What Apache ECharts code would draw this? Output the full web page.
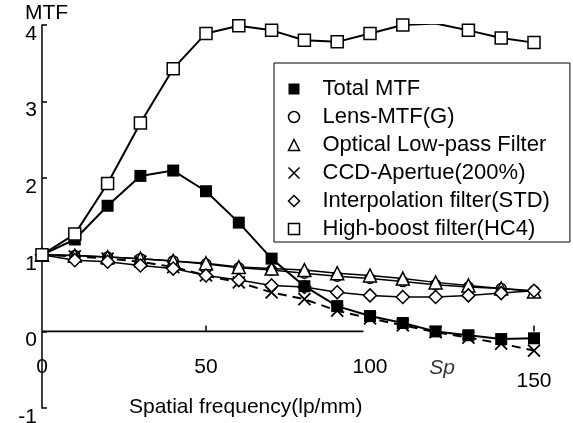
<!DOCTYPE html>
<html>
<head>
<meta charset="utf-8">
<script src="https://cdn.jsdelivr.net/npm/echarts@6/dist/echarts.min.js"></script>
<style>
  html, body { margin: 0; padding: 0; background: #fff; }
  #chart { width: 573px; height: 423px; }
</style>
</head>
<body>
<div id="chart"></div>
<script>
// spatial frequency (lp/mm)
const freq = [0, 10, 20, 30, 40, 50, 60, 70, 80, 90, 100, 110, 120, 130, 140, 150];

// MTF curves
const totalMtf = [1.00, 1.20, 1.64, 2.03, 2.10, 1.83, 1.42, 0.95, 0.59, 0.33, 0.20, 0.11, 0.00, -0.05, -0.10, -0.09];
const lensMtf = [1.00, 0.99, 0.97, 0.95, 0.92, 0.88, 0.83, 0.80, 0.76, 0.72, 0.69, 0.65, 0.61, 0.58, 0.56, 0.53];
const lowPass = [1.00, 0.99, 0.97, 0.95, 0.92, 0.89, 0.84, 0.82, 0.80, 0.76, 0.73, 0.69, 0.64, 0.60, 0.56, 0.52];
const ccdAperture = [1.00, 0.98, 0.95, 0.91, 0.84, 0.73, 0.64, 0.51, 0.42, 0.27, 0.17, 0.08, -0.01, -0.08, -0.16, -0.25];
const interpFilter = [1.00, 0.93, 0.91, 0.86, 0.82, 0.73, 0.67, 0.60, 0.58, 0.51, 0.47, 0.45, 0.45, 0.47, 0.50, 0.53];
const highBoost = [1.00, 1.27, 1.93, 2.72, 3.43, 3.89, 3.99, 3.93, 3.80, 3.78, 3.89, 4.00, 4.02, 3.93, 3.83, 3.77];

// axis ticks / labels
const xTickMarks = [50, 150];
const yTicks = [-1, 0, 1, 2, 3, 4];
// "Sp" mark on the frequency axis
const spLabel = { x: 122, y: -0.48, text: 'Sp' };
// drawn x axis line only runs to about 98
const baseX = [0, 98];
const baseY = [0, 0];

const names = ['Total MTF', 'Lens-MTF(G)', 'Optical Low-pass Filter', 'CCD-Apertue(200%)', 'Interpolation filter(STD)', 'High-boost filter(HC4)'];

const crossPath = 'path://M0,0L10,10M10,0L0,10';
const font = '"Liberation Sans", Arial, sans-serif';

function pairs(ys) {
  return freq.map((x, i) => [x, ys[i]]);
}

let myChart = echarts.init(document.getElementById('chart'));

const openStyle = { color: '#fff', borderColor: '#000', borderWidth: 1.5 };

let option = {
  animation: false,
  backgroundColor: '#fff',
  textStyle: { fontFamily: font, color: '#000' },
  title: [
    { text: 'MTF', left: 25, top: 3, padding: 0,
      textStyle: { fontSize: 21, fontWeight: 'normal', color: '#000', fontFamily: font } },
    { text: 'Spatial frequency(lp/mm)', left: 129, top: 397, padding: 0,
      textStyle: { fontSize: 21, fontWeight: 'normal', color: '#000', fontFamily: font } }
  ],
  grid: { left: 42, right: 39, top: 25, bottom: 15, containLabel: false, outerBoundsMode: 'none' },
  legend: {
    orient: 'vertical',
    left: 274,
    top: 63,
    padding: [15, 20, 2, 12],
    backgroundColor: '#fff',
    borderColor: '#000',
    borderWidth: 1,
    itemWidth: 11,
    itemHeight: 11,
    itemGap: 6,
    textStyle: { fontSize: 22, lineHeight: 22, color: '#000', fontFamily: font, padding: [0, 0, 0, 18] },
    data: [
      { name: names[0], icon: 'rect', itemStyle: { color: '#000', borderWidth: 0 } },
      { name: names[1], icon: 'circle', itemStyle: openStyle },
      { name: names[2], icon: 'triangle', itemStyle: openStyle },
      { name: names[3], icon: crossPath, itemStyle: { color: 'none', borderColor: '#000', borderWidth: 1.5 } },
      { name: names[4], icon: 'diamond', itemStyle: openStyle },
      { name: names[5], icon: 'rect', itemStyle: openStyle }
    ]
  },
  xAxis: {
    type: 'value',
    min: 0,
    max: 150,
    interval: 50,
    position: 'bottom',
    offset: -76.6,
    axisLine: { show: false, onZero: false },
    axisTick: { show: true, inside: true, length: 6, customValues: xTickMarks,
      lineStyle: { color: '#000', width: 1.5 } },
    splitLine: { show: false },
    axisLabel: {
      show: true,
      margin: 25,
      fontSize: 21,
      color: '#000',
      fontFamily: font,
      showMinLabel: true,
      showMaxLabel: true,
      formatter: function (v) {
        if (v === 150) return '{low|150}';
        return String(v);
      },
      rich: {
        low: { fontSize: 21, color: '#000', fontFamily: font, padding: [14, 0, 0, 0] }
      }
    }
  },
  yAxis: {
    type: 'value',
    min: -1,
    max: 4,
    interval: 1,
    axisLine: { show: true, onZero: false, lineStyle: { color: '#000', width: 1.5 } },
    axisTick: { show: true, inside: true, length: 5, customValues: yTicks,
      lineStyle: { color: '#000', width: 1.5 } },
    splitLine: { show: false },
    axisLabel: { margin: 5, fontSize: 21, lineHeight: 18, verticalAlign: 'top',
      color: '#000', fontFamily: font }
  },
  series: [
    {
      name: 'axis',
      type: 'line',
      data: baseX.map((x, i) => [x, baseY[i]]),
      symbol: 'none',
      lineStyle: { color: '#000', width: 1.8 },
      silent: true,
      z: 1
    },
    {
      name: 'sp',
      type: 'scatter',
      data: [[spLabel.x, spLabel.y]],
      symbolSize: 0,
      silent: true,
      label: {
        show: true,
        position: 'inside',
        formatter: spLabel.text,
        fontSize: 21,
        fontStyle: 'italic',
        color: '#000',
        fontFamily: font
      }
    },
    {
      name: names[1],
      type: 'line',
      data: pairs(lensMtf),
      symbol: 'circle',
      symbolSize: 10,
      itemStyle: openStyle,
      lineStyle: { color: '#000', width: 1.5 },
      z: 2
    },
    {
      name: names[2],
      type: 'line',
      data: pairs(lowPass),
      symbol: 'triangle',
      symbolSize: 13,
      itemStyle: openStyle,
      lineStyle: { color: '#000', width: 1.5 },
      z: 3
    },
    {
      name: names[3],
      type: 'line',
      data: pairs(ccdAperture),
      symbol: crossPath,
      symbolSize: 12,
      itemStyle: { color: 'none', borderColor: '#000', borderWidth: 1.8 },
      lineStyle: { color: '#000', width: 2, type: [9, 6] },
      z: 4
    },
    {
      name: names[4],
      type: 'line',
      data: pairs(interpFilter),
      symbol: 'diamond',
      symbolSize: 13,
      itemStyle: openStyle,
      lineStyle: { color: '#000', width: 1.5 },
      z: 5
    },
    {
      name: names[0],
      type: 'line',
      data: pairs(totalMtf),
      symbol: 'rect',
      symbolSize: 12,
      itemStyle: { color: '#000', borderWidth: 0 },
      lineStyle: { color: '#000', width: 2 },
      z: 6
    },
    {
      name: names[5],
      type: 'line',
      data: pairs(highBoost),
      symbol: 'rect',
      symbolSize: 12,
      itemStyle: openStyle,
      lineStyle: { color: '#000', width: 2 },
      z: 7
    }
  ]
};

myChart.setOption(option);
</script>
</body>
</html>
